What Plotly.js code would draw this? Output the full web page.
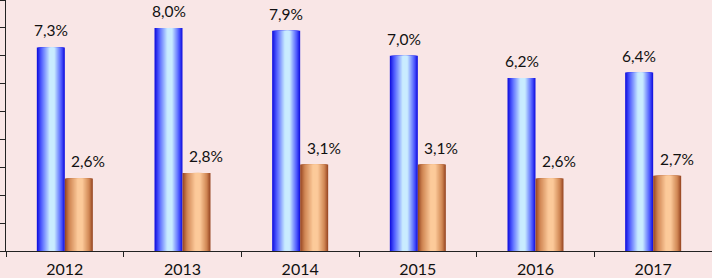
<!DOCTYPE html>
<html><head><meta charset="utf-8">
<script src="https://cdn.plot.ly/plotly-3.0.1.min.js"></script>
<style>html,body{margin:0;padding:0;background:#f9e6e6}</style>
</head><body><div id="chart" style="width:712px;height:278px"></div>
<script>
const years = ['2012','2013','2014','2015','2016','2017'];
const seriesA = [7.3, 8.0, 7.9, 7.0, 6.2, 6.4];
const seriesB = [2.6, 2.8, 3.1, 3.1, 2.6, 2.7];

const fmt = v => v.toFixed(1).replace('.', ',') + '%';
const W = 0.238;
function hex(c){return [parseInt(c.slice(1,3),16),parseInt(c.slice(3,5),16),parseInt(c.slice(5,7),16)];}
function mix(a,b,t){const A=hex(a),B=hex(b);return 'rgb('+A.map((x,i)=>Math.round(x+(B[i]-x)*t)).join(',')+')';}
function profile(edge, mid, center, t){ return t<0.25 ? mix(edge, mid, t/0.25) : mix(mid, center, Math.min(1,(t-0.25)/0.55)); }

const traces = [];
const N = 14;
function addSeries(vals, start, edge, mid, center){
  const c = 0.55;
  for(let k=0;k<N;k++){
    const t = k/N;
    const l = start + W*c*t;
    const r = start + W - W*(1-c)*t;
    traces.push({type:'bar', x:years, y:vals, offset:l, width:r-l,
      marker:{color:profile(edge,mid,center,t), line:{width:0}},
      hoverinfo:'skip', showlegend:false});
  }
}
addSeries(seriesA, -W, '#1414e0', '#4f5cff', '#c9ecff');
addSeries(seriesB, 0, '#9a4a26', '#cf8452', '#fcca9a');

const annotations = [];
const lf = {family:'Lato, sans-serif', size:15.5, color:'#111111'};
years.forEach((yr,i)=>{
  annotations.push({x:i - W/2, y:seriesA[i], text:fmt(seriesA[i]), showarrow:false,
    yanchor:'bottom', yshift:6, font:lf});
  annotations.push({x:i + W/2 + 0.08, y:seriesB[i], text:fmt(seriesB[i]), showarrow:false,
    yanchor:'bottom', yshift:6, font:lf});
});

const layout = {
  width:712, height:278,
  margin:{l:6, r:0, t:0, b:27},
  paper_bgcolor:'#f9e6e6', plot_bgcolor:'#f9e6e6',
  barmode:'overlay',
  showlegend:false,
  xaxis:{type:'category', showgrid:false, showline:true, linecolor:'#222', linewidth:1,
    ticks:'outside', tickson:'boundaries', ticklen:5, tickcolor:'#222', ticklabelstandoff:4,
    tickfont:{family:'Lato, sans-serif', size:16, color:'#111111'}, zeroline:false, fixedrange:true},
  yaxis:{range:[0,9], dtick:1, showgrid:false, showline:true, linecolor:'#222', linewidth:1,
    ticks:'outside', ticklen:5, tickcolor:'#222', showticklabels:false, zeroline:false, fixedrange:true},
  annotations:annotations
};
Plotly.newPlot('chart', traces, layout, {displayModeBar:false, staticPlot:true});
</script></body></html>
